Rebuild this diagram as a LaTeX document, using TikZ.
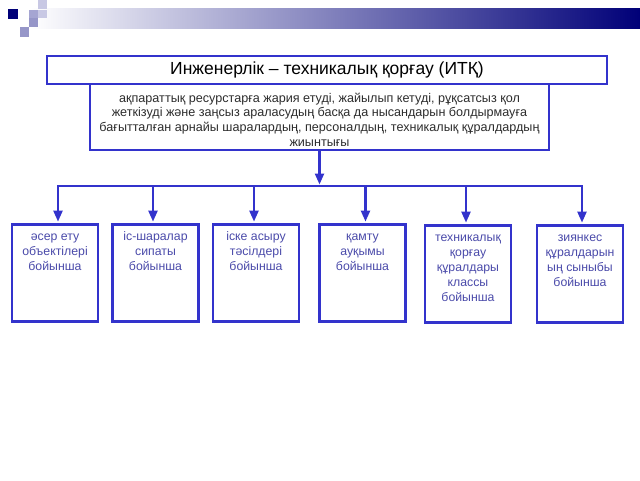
\documentclass[tikz,border=0pt]{standalone}
\usepackage{fontspec}
\setmainfont{Liberation Sans}
\usetikzlibrary{arrows.meta}
\definecolor{bord}{RGB}{51,51,204}
\definecolor{navyc}{RGB}{0,0,120}
\definecolor{btext}{RGB}{75,75,170}
\definecolor{dtext}{RGB}{45,45,45}
\definecolor{sqA}{RGB}{200,200,228}
\definecolor{sqB}{RGB}{165,165,210}
\definecolor{sqC}{RGB}{150,150,200}
\newcommand\catxt[1]{\parbox[c][97pt][t]{86pt}{\centering\vspace*{5.5pt}\strut#1}}
\begin{document}
\begin{tikzpicture}[x=1pt,y=-1pt,
  titlebox/.style={draw=bord, line width=2.8pt, fill=white, minimum width=560pt, minimum height=28pt, inner sep=0pt, font=\fontsize{17.5}{20}\selectfont},
  descbox/.style={draw=bord, line width=1.5pt, fill=white, minimum width=459pt, minimum height=66pt, align=center, inner sep=0pt, font=\fontsize{12.6}{14.7}\selectfont, text=dtext},
  catbox/.style={draw=bord, line width=2.8pt, fill=white, inner sep=0pt, text=btext, font=\fontsize{12.3}{15}\selectfont},
  conn/.style={draw=bord, line width=2.3pt},
  arr/.style={conn, -{Triangle[width=9pt,length=11pt]}, shorten >=1.5pt}
]
\useasboundingbox (0,0) rectangle (640,480);
% header decoration
\shade[left color=white, right color=navyc] (30,8) rectangle (640,28);
\fill[sqA] (38,0) rectangle (47,9);
\fill[sqA] (38,10) rectangle (47,18);
\fill[sqB] (29,10) rectangle (38,18);
\fill[sqC] (29,18) rectangle (38,27);
\fill[sqC] (20,27) rectangle (29,37);
\fill[navyc] (8,9) rectangle (18,19);
% main boxes
\node[descbox] (desc) at (319.5,117) {\rule{0pt}{14.5pt}ақпараттық ресурстарға жария етуді, жайылып кетуді, рұқсатсыз қол\\жеткізуді және заңсыз араласудың басқа да нысандарын болдырмауға\\бағытталған арнайы шаралардың, персоналдың, техникалық құралдардың\\жиынтығы};
\node[titlebox] (title) at (327,70) {Инженерлік – техникалық қорғау (ИТҚ)};
% category boxes
\node[catbox] (b1) at (55,273) {\catxt{әсер ету\\объектілері\\бойынша}};
\node[catbox] (b2) at (155.5,273) {\catxt{іс-шаралар\\сипаты\\бойынша}};
\node[catbox] (b3) at (256,273) {\catxt{іске асыру\\тәсілдері\\бойынша}};
\node[catbox] (b4) at (362.5,273) {\catxt{қамту\\ауқымы\\бойынша}};
\node[catbox] (b5) at (468,274) {\catxt{техникалық\\қорғау\\құралдары\\классы\\бойынша}};
\node[catbox] (b6) at (580,274) {\catxt{зиянкес\\құралдарын\\ың сыныбы\\бойынша}};
% connectors
\coordinate (bus) at (0,186);
\coordinate (t1) at ([xshift=3pt]b1.north);
\coordinate (t2) at ([xshift=-2.5pt]b2.north);
\coordinate (t3) at ([xshift=-2pt]b3.north);
\coordinate (t4) at ([xshift=3pt]b4.north);
\coordinate (t5) at ([xshift=-2pt]b5.north);
\coordinate (t6) at ([xshift=2pt]b6.north);
\draw[arr] (desc.south |- bus) -| (t1);
\draw[arr] (desc.south |- bus) -| (t6);
\draw[arr] (t2 |- bus) -- (t2);
\draw[arr] (t3 |- bus) -- (t3);
\draw[arr] (t4 |- bus) -- (t4);
\draw[arr] (t5 |- bus) -- (t5);
\draw[arr] (desc.south) -- (desc.south |- bus);
\end{tikzpicture}
\end{document}
